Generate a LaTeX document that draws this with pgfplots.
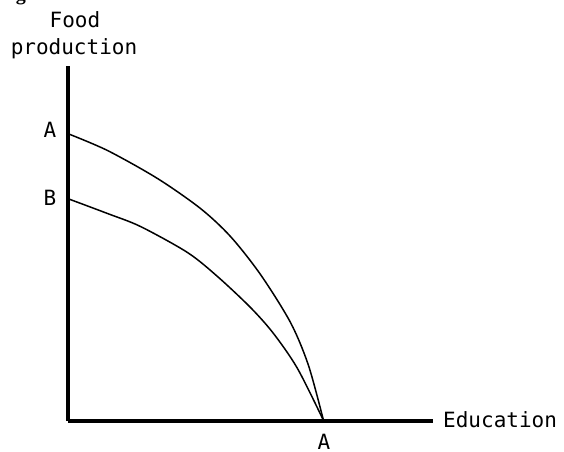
\documentclass[border=0pt]{standalone}
\usepackage{fontspec}
\usepackage{pgfplots}
\pgfplotsset{compat=1.18}
\newfontfamily\mono{DejaVu Sans Mono}
\newfontfamily\capfont{Liberation Serif}

\begin{document}
\begin{tikzpicture}[x=1pt, y=1pt]
  % page = 564 x 451, one unit per pixel, y going down
  \useasboundingbox (0,0) rectangle (564,-451);
  \begin{axis}[
      at={(67.5pt,-420.5pt)}, anchor=south west,
      scale only axis,
      width=365pt, height=355pt,
      xmin=0, xmax=365, ymin=0, ymax=355,
      axis lines*=left,
      x axis line style={-, line width=4pt, black},
      y axis line style={-, line width=4pt, black},
      xtick=\empty, ytick=\empty,
      clip=false,
    ]
    % curve through A on the food axis
    \addplot[black, line width=1.5pt, smooth, tension=0.5] coordinates {
      (0,287) (40,270) (90,242) (133,212) (163,184) (193,146)
      (223,98) (241,55) (256,0)
    };
    % curve through B on the food axis
    \addplot[black, line width=1.5pt, smooth, tension=0.5] coordinates {
      (0,222) (40,207) (73,194) (120,168) (150,144) (183,113)
      (206,87) (230,52) (256,0)
    };
  \end{axis}

  \begin{scope}[every node/.style={inner sep=0pt, font=\mono\fontsize{21}{24}\selectfont}]
    \node[anchor=base] at (75,-27) {Food};
    \node[anchor=base] at (74,-54) {production};
    \node[anchor=base] at (50,-137) {A};
    \node[anchor=base] at (50,-205) {B};
    \node[anchor=base] at (324,-449) {A};
    \node[anchor=base west] at (443,-427) {Education};
  \end{scope}
  % cut-off caption above the figure
  \node[inner sep=0pt, anchor=base, font=\capfont\bfseries\fontsize{20}{24}\selectfont] at (21,-0.5) {g};
\end{tikzpicture}
\end{document}
